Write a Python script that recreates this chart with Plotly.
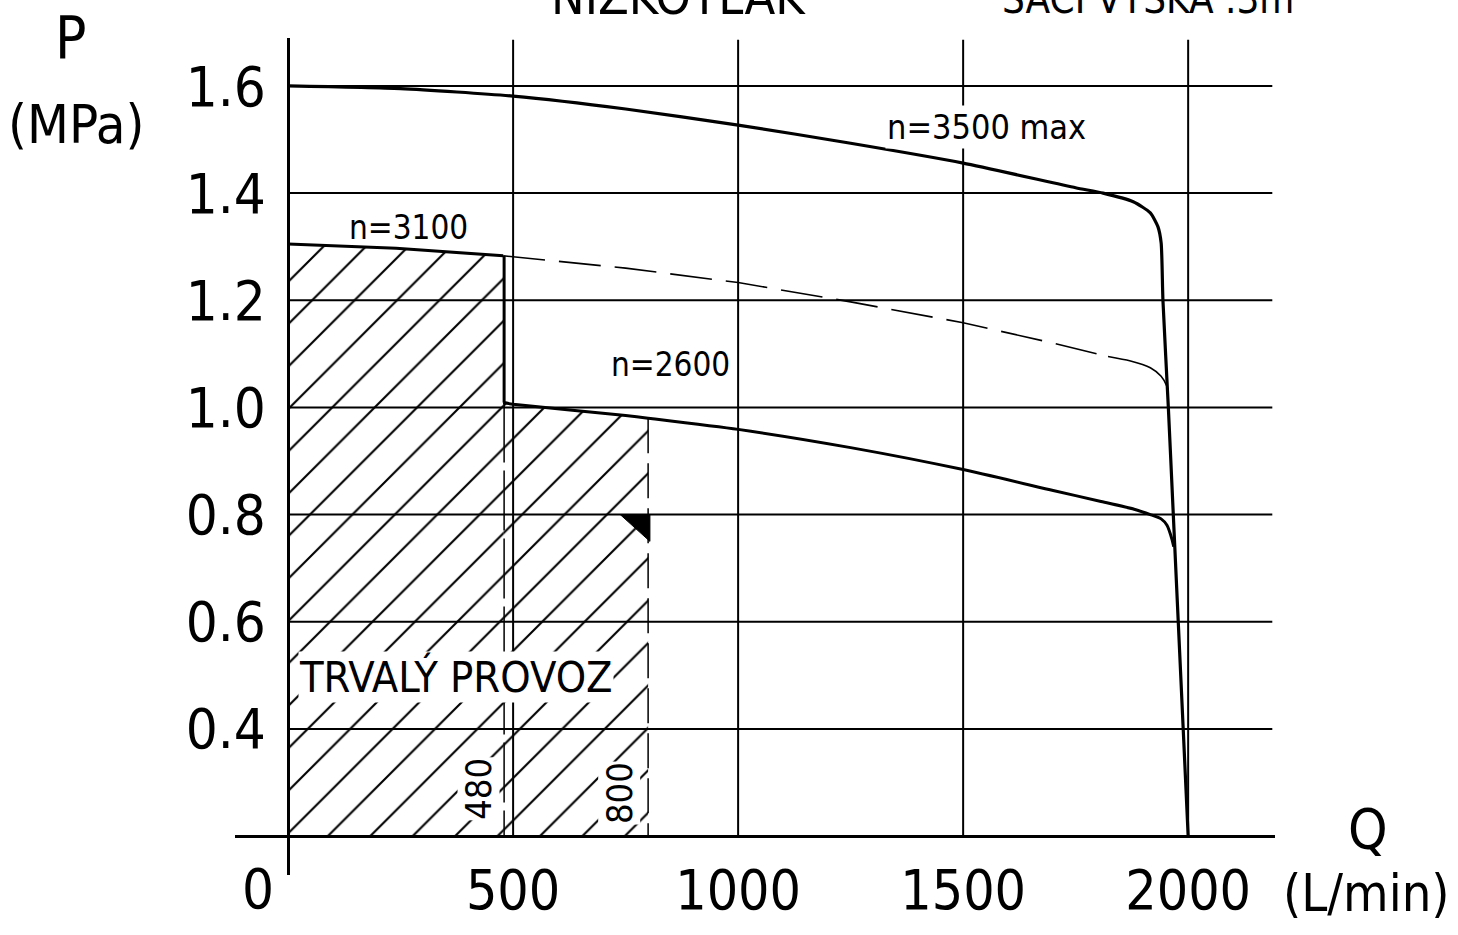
import plotly.graph_objects as go

FONT = "DejaVu Sans Condensed, Liberation Sans Narrow, sans-serif"

# ---- data ----
q_3500 = [0, 250, 500, 750, 1000, 1250, 1500, 1750, 1811, 1878, 1916, 1933, 1940, 1944, 1956, 1967, 1989, 2000]
p_3500 = [1.6, 1.595, 1.581, 1.557, 1.527, 1.493, 1.456, 1.41, 1.40, 1.384, 1.363, 1.337, 1.307, 1.2, 1.0, 0.8, 0.4, 0.2]

q_3100_solid = [0, 240, 478]
p_3100_solid = [1.305, 1.297, 1.283]
q_3100_dash = [478, 750, 1000, 1250, 1500, 1700, 1822]
p_3100_dash = [1.283, 1.26, 1.233, 1.197, 1.158, 1.12, 1.095]
q_3100_tail = [1822, 1870, 1916, 1940, 1953, 1956]
p_3100_tail = [1.095, 1.087, 1.074, 1.058, 1.039, 1.028]

q_2600 = [478, 500, 750, 800, 1000, 1250, 1500, 1700, 1804, 1880, 1916, 1940, 1953, 1964, 1968]
p_2600 = [1.009, 1.006, 0.985, 0.98, 0.959, 0.925, 0.884, 0.845, 0.825, 0.81, 0.80, 0.792, 0.78, 0.754, 0.74]

q_limit_a = 480
q_limit_b = 800
p_base = 0.2

x_ticks = [500, 1000, 1500, 2000]
x_ticktext = ["500", "1000", "1500", "2000"]
y_ticks = [0.4, 0.6, 0.8, 1.0, 1.2, 1.4, 1.6]
y_ticktext = ["0.4", "0.6", "0.8", "1.0", "1.2", "1.4", "1.6"]

tri_q = [738, 804, 804, 738]
tri_p = [0.8, 0.8, 0.75, 0.8]

x_range = [-118, 2193]
y_range = [0.1273, 1.6895]

fig = go.Figure()

CLEAR = "rgba(0,0,0,0)"
# hatched regions
hatch = dict(shape="/", size=30, solidity=0.07, fgcolor="black", bgcolor=CLEAR, fgopacity=1)
reg1_x = [0, 0] + q_3100_solid[1:] + [q_3100_solid[-1]]
reg1_y = [p_base, p_3100_solid[0]] + p_3100_solid[1:] + [p_base]
fig.add_trace(go.Scatter(x=reg1_x, y=reg1_y, fill="toself", fillpattern=hatch,
                         fillcolor=CLEAR, line=dict(width=0), mode="lines", hoverinfo="skip"))
i800 = q_2600.index(800)
reg2_x = [q_2600[0]] + q_2600[:i800 + 1] + [800]
reg2_y = [p_base] + p_2600[:i800 + 1] + [p_base]
fig.add_trace(go.Scatter(x=reg2_x, y=reg2_y, fill="toself", fillpattern=hatch,
                         fillcolor=CLEAR, line=dict(width=0), mode="lines", hoverinfo="skip"))

# horizontal grid lines (start at the P axis)
for yv in y_ticks:
    fig.add_shape(type="line", xref="x", yref="y", x0=0, x1=2187, y0=yv, y1=yv,
                  line=dict(color="black", width=2), layer="below")
# vertical grid lines (from baseline to top)
for xv in x_ticks:
    fig.add_shape(type="line", xref="x", yref="paper", x0=xv, x1=xv, y0=0.0465, y1=0.998,
                  line=dict(color="black", width=2), layer="below")

# limit lines
i_top = p_3100_solid[-1]
fig.add_trace(go.Scatter(x=[q_limit_a, q_limit_a], y=[i_top, p_2600[0]], mode="lines",
                         line=dict(color="black", width=3), hoverinfo="skip"))
fig.add_trace(go.Scatter(x=[q_limit_a, q_limit_a], y=[p_2600[0], p_base], mode="lines",
                         line=dict(color="black", width=1.5, dash="60px,8px"), hoverinfo="skip"))
fig.add_trace(go.Scatter(x=[q_limit_b, q_limit_b], y=[p_2600[i800], p_base], mode="lines",
                         line=dict(color="black", width=1.5, dash="35px,10px"), hoverinfo="skip"))

# curves
fig.add_trace(go.Scatter(x=q_3500, y=p_3500, mode="lines", line=dict(color="black", width=3.2, shape="spline", smoothing=0.6), hoverinfo="skip"))
fig.add_trace(go.Scatter(x=q_3100_solid, y=p_3100_solid, mode="lines", line=dict(color="black", width=3), hoverinfo="skip"))
fig.add_trace(go.Scatter(x=q_3100_dash, y=p_3100_dash, mode="lines", line=dict(color="black", width=1.6, dash="42px,14px"), hoverinfo="skip"))
fig.add_trace(go.Scatter(x=q_3100_tail, y=p_3100_tail, mode="lines", line=dict(color="black", width=1.6, shape="spline", smoothing=0.6), hoverinfo="skip"))
fig.add_trace(go.Scatter(x=q_2600, y=p_2600, mode="lines", line=dict(color="black", width=3, shape="spline", smoothing=0.6), hoverinfo="skip"))

# triangle
fig.add_trace(go.Scatter(x=tri_q, y=tri_p, mode="lines", fill="toself", fillcolor="black",
                         line=dict(color="black", width=1), hoverinfo="skip"))

def ann(text, x, y, size, bg=None, angle=0, pad=1):
    fig.add_annotation(text=text, x=x, y=y, xref="x", yref="y", showarrow=False,
                       font=dict(family=FONT, size=size, color="black"),
                       bgcolor=bg, textangle=angle, xanchor="center", yanchor="middle", borderpad=pad)

ann("n=3500 max", 1553, 1.524, 34, bg="white")
ann("n=3100", 268, 1.335, 33)
ann("n=2600", 849, 1.08, 33)
ann("TRVALÝ PROVOZ", 374, 0.497, 43, bg="white", pad=0)
ann("480", 424, 0.288, 36, bg="white", angle=-90, pad=0)
ann("800", 735, 0.28, 36, bg="white", angle=-90, pad=0)

W, H = 1458, 935
L, R, T, B = 235, 183, 38, 60
pw, ph = W - L - R, H - T - B
def pa(text, px, py, size):
    fig.add_annotation(text=text, x=(px - L) / pw, y=(H - B - py) / ph, xref="paper", yref="paper",
                       showarrow=False, font=dict(family=FONT, size=size, color="black"),
                       xanchor="center", yanchor="middle")

pa("P", 70, 38, 58)
pa("(MPa)", 76, 125, 54)
pa("Q", 1368, 828, 56)
pa("(L/min)", 1366, 893, 52)
pa("0", 258, 888, 56)
pa("NIZKOTLAK", 678, -3, 50)
pa("SACÍ VÝŠKA .3m", 1148, -1, 40)

fig.update_layout(
    width=W, height=H,
    margin=dict(l=L, r=R, t=T, b=B, pad=0, autoexpand=False),
    paper_bgcolor="white", plot_bgcolor="white",
    showlegend=False,
    xaxis=dict(range=x_range, showgrid=False, zeroline=False, showline=True, linecolor="black", linewidth=3,
               anchor="free", position=(0.2 - y_range[0]) / (y_range[1] - y_range[0]), automargin=False,
               tickmode="array", tickvals=x_ticks, ticktext=x_ticktext, ticks="",
               ticklabelstandoff=5, tickfont=dict(family=FONT, size=55, color="black")),
    yaxis=dict(range=y_range, showgrid=False, zeroline=False, showline=True, linecolor="black", linewidth=3,
               anchor="free", position=(0 - x_range[0]) / (x_range[1] - x_range[0]), automargin=False,
               tickmode="array", tickvals=y_ticks, ticktext=y_ticktext, ticks="",
               ticklabelstandoff=10, tickfont=dict(family=FONT, size=56, color="black")),
)

fig.write_html("out.html", config={"displayModeBar": False},
               post_script="document.body.style.margin='0';document.body.style.overflow='hidden';")
